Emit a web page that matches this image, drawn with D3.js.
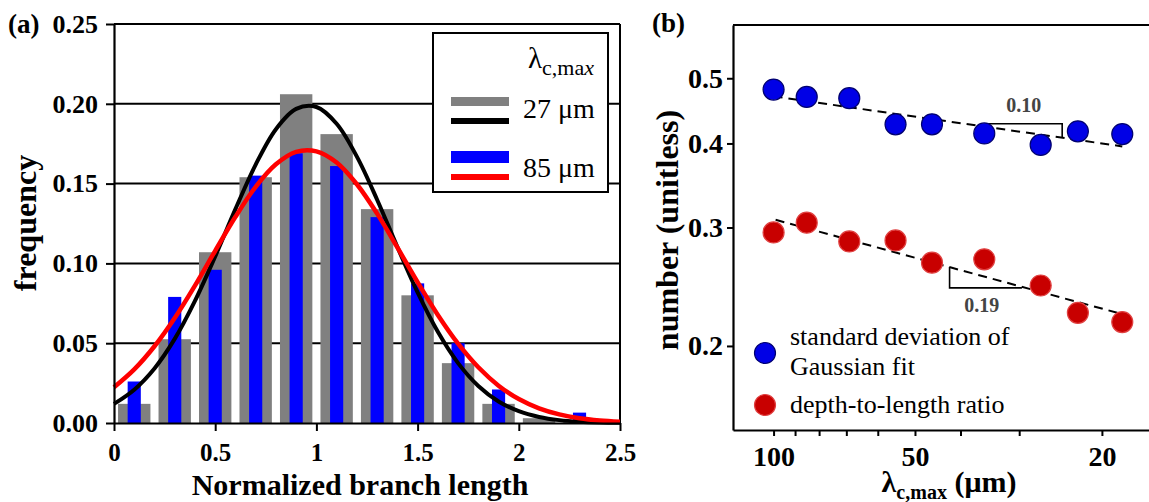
<!DOCTYPE html>
<html>
<head>
<meta charset="utf-8">
<script src="https://cdn.jsdelivr.net/npm/d3@7"></script>
<style>
    body { margin: 0; background: #fff; }
    text { font-family: "Liberation Serif", "Times New Roman", serif; }
</style>
</head>
<body>
<div id="fig"></div>
<script>
"use strict"

// panel (a): histogram of normalized branch length
var bin_centers = [0.1, 0.3, 0.5, 0.7, 0.9, 1.1, 1.3, 1.5, 1.7, 1.9, 2.1, 2.3]
var freq_27 = [0.012, 0.0525, 0.107, 0.154, 0.206, 0.181, 0.134, 0.080, 0.0375, 0.012, 0.003, 0.001]
var freq_85 = [0.026, 0.079, 0.096, 0.155, 0.169, 0.161, 0.129, 0.0875, 0.050, 0.021, 0.000, 0.0065]

// gaussian fits
var fit_x = [0, 0.1, 0.2, 0.3, 0.4, 0.5, 0.6, 0.7, 0.8, 0.9, 1.0, 1.1, 1.2,
             1.3, 1.4, 1.5, 1.6, 1.7, 1.8, 1.9, 2.0, 2.1, 2.2, 2.3, 2.4, 2.5]
var fit_27 = [0.0120, 0.0209, 0.0342, 0.0527, 0.0765, 0.1044, 0.1340, 0.1619, 0.1841, 0.1968,
              0.1980, 0.1875, 0.1669, 0.1399, 0.1103, 0.0818, 0.0571, 0.0375, 0.0232, 0.0135,
              0.0074, 0.0038, 0.0018, 0.0008, 0.0003, 0.0001]
var fit_85 = [0.0224, 0.0336, 0.0481, 0.0658, 0.0861, 0.1079, 0.1292, 0.1480, 0.1621, 0.1699,
              0.1702, 0.1632, 0.1496, 0.1312, 0.1100, 0.0882, 0.0677, 0.0497, 0.0349, 0.0234,
              0.0150, 0.0092, 0.0054, 0.0030, 0.0016, 0.0008]

var y_ticks_a = [0, 0.05, 0.10, 0.15, 0.20, 0.25]
var x_ticks_a = [0, 0.5, 1, 1.5, 2, 2.5]
var legend_a = ["27 μm", "85 μm"]

// panel (b): log-log scaling against lambda_c,max
var lambda_max = [100, 85, 69, 55, 46, 35.6, 27, 22.5, 18.1]
var std_dev = [0.481, 0.469, 0.467, 0.427, 0.427, 0.414, 0.398, 0.417, 0.413]
var depth_ratio = [0.295, 0.305, 0.286, 0.287, 0.266, 0.269, 0.246, 0.224, 0.217]

var std_fit = [[100, 0.470], [18.1, 0.396]]
var ratio_fit = [[99, 0.308], [18.1, 0.223]]
var std_slope = [[35.4, 0.428], [24.3, 0.428], [24.3, 0.409]]
var ratio_slope = [[42.2, 0.262], [42.2, 0.244], [29.6, 0.244]]
var slope_labels = ["0.10", "0.19"]

var x_ticks_b = [100, 90, 80, 70, 60, 50, 40, 30, 20]
var x_labels_b = [100, 50, 20]
var y_ticks_b = [0.2, 0.3, 0.4, 0.5]
var legend_b = ["standard deviation of", "Gaussian fit", "depth-to-length ratio"]


var svg = d3.select("#fig").append("svg")
    .attr("width", 1149)
    .attr("height", 502)

svg.append("rect").attr("width", 1149).attr("height", 502).attr("fill", "#fff")

function style_axis(g, size) {
    g.attr("font-family", null).attr("font-size", null)
    g.select(".domain").attr("stroke", "#000").attr("stroke-width", 2.2)
    g.selectAll(".tick line").attr("stroke", "#000").attr("stroke-width", 2)
    g.selectAll(".tick text")
        .attr("fill", "#000")
        .style("font-size", size + "px")
        .style("font-weight", "bold")
}


/**
panel (a)
*/
var xa = d3.scaleLinear().domain([0, 2.5]).range([114, 620])
var ya = d3.scaleLinear().domain([0, 0.25]).range([423, 24])

var pa = svg.append("g")

// gridlines + frame
pa.selectAll("line.grid")
    .data(y_ticks_a.slice(1))
    .enter()
    .append("line")
    .attr("class", "grid")
    .attr("x1", xa(0))
    .attr("x2", xa(2.5))
    .attr("y1", function(d) { return ya(d) })
    .attr("y2", function(d) { return ya(d) })
    .attr("stroke", "#000")
    .attr("stroke-width", 2)

pa.append("line")
    .attr("x1", xa(2.5)).attr("x2", xa(2.5))
    .attr("y1", ya(0)).attr("y2", ya(0.25))
    .attr("stroke", "#000")
    .attr("stroke-width", 2)

var gray_w = 0.16
var blue_w = 0.065

pa.selectAll("rect.gray")
    .data(bin_centers)
    .enter()
    .append("rect")
    .attr("class", "gray")
    .attr("x", function(d) { return xa(d - gray_w / 2) })
    .attr("width", xa(gray_w) - xa(0))
    .attr("y", function(d, i) { return ya(freq_27[i]) })
    .attr("height", function(d, i) { return ya(0) - ya(freq_27[i]) })
    .attr("fill", "#808080")

pa.selectAll("rect.blue")
    .data(bin_centers)
    .enter()
    .append("rect")
    .attr("class", "blue")
    .attr("x", function(d) { return xa(d - blue_w / 2) })
    .attr("width", xa(blue_w) - xa(0))
    .attr("y", function(d, i) { return ya(freq_85[i]) })
    .attr("height", function(d, i) { return ya(0) - ya(freq_85[i]) })
    .attr("fill", "#0000ff")

var fit_line = d3.line()
    .x(function(d) { return xa(d[0]) })
    .y(function(d) { return ya(d[1]) })
    .curve(d3.curveCatmullRom)

pa.append("path")
    .attr("d", fit_line(fit_x.map(function(x, i) { return [x, fit_27[i]] })))
    .attr("fill", "none")
    .attr("stroke", "#000")
    .attr("stroke-width", 4)

pa.append("path")
    .attr("d", fit_line(fit_x.map(function(x, i) { return [x, fit_85[i]] })))
    .attr("fill", "none")
    .attr("stroke", "#ff0000")
    .attr("stroke-width", 4.5)

var axis_ya = d3.axisLeft(ya)
    .tickValues(y_ticks_a)
    .tickFormat(d3.format(".2f"))
    .tickSize(8)
    .tickSizeOuter(0)
    .tickPadding(8)

pa.append("g")
    .attr("transform", "translate(" + xa(0) + ",0)")
    .call(axis_ya)
    .call(style_axis, 26)

var axis_xa = d3.axisBottom(xa)
    .tickValues(x_ticks_a)
    .tickFormat(function(d) { return String(d) })
    .tickSize(8)
    .tickSizeOuter(0)
    .tickPadding(12)

pa.append("g")
    .attr("transform", "translate(0," + ya(0) + ")")
    .call(axis_xa)
    .call(style_axis, 25)

// legend (a)
var lg = pa.append("g")
lg.append("rect")
    .attr("x", 433).attr("y", 33)
    .attr("width", 175).attr("height", 159)
    .attr("fill", "#fff")
    .attr("stroke", "#000")
    .attr("stroke-width", 2)

var lg_title = lg.append("text")
    .attr("x", 594).attr("y", 68)
    .attr("text-anchor", "end")
    .style("font-size", "29px")
lg_title.append("tspan").text("λ")
lg_title.append("tspan").attr("dy", 7).style("font-size", "22px").text("c,ma")
lg_title.append("tspan").style("font-size", "22px").style("font-style", "italic").text("x")

lg.append("rect").attr("x", 451).attr("y", 97).attr("width", 58).attr("height", 9).attr("fill", "#808080")
lg.append("rect").attr("x", 451).attr("y", 118).attr("width", 58).attr("height", 6).attr("fill", "#000")
lg.append("rect").attr("x", 451).attr("y", 151).attr("width", 58).attr("height", 12).attr("fill", "#0000ff")
lg.append("rect").attr("x", 451).attr("y", 174).attr("width", 58).attr("height", 6).attr("fill", "#ff0000")

lg.selectAll("text.item")
    .data(legend_a)
    .enter()
    .append("text")
    .attr("class", "item")
    .attr("x", 523)
    .attr("y", function(d, i) { return 118 + i * 59 })
    .style("font-size", "28px")
    .text(function(d) { return d })

svg.append("text")
    .attr("x", 8).attr("y", 33)
    .style("font-size", "27px").style("font-weight", "bold")
    .text("(a)")

svg.append("text")
    .attr("transform", "translate(36,223) rotate(-90)")
    .attr("text-anchor", "middle")
    .style("font-size", "32px").style("font-weight", "bold")
    .text("frequency")

svg.append("text")
    .attr("x", 360).attr("y", 495)
    .attr("text-anchor", "middle")
    .style("font-size", "30px").style("font-weight", "bold")
    .text("Normalized branch length")


/**
panel (b)
*/
var xb = d3.scaleLog().domain([122, 15.8]).range([733, 1150])
var yb = d3.scaleLog().domain([0.15, 0.6]).range([430, 25])

var pb = svg.append("g")

pb.append("line")
    .attr("x1", 733).attr("x2", 1150)
    .attr("y1", yb(0.6)).attr("y2", yb(0.6))
    .attr("stroke", "#000")
    .attr("stroke-width", 2)

var axis_yb = d3.axisLeft(yb)
    .tickValues(y_ticks_b)
    .tickFormat(d3.format(".1f"))
    .tickSize(6)
    .tickSizeOuter(0)
    .tickPadding(4)

pb.append("g")
    .attr("transform", "translate(733,0)")
    .call(axis_yb)
    .call(style_axis, 28)

var axis_xb = d3.axisBottom(xb)
    .tickValues(x_ticks_b)
    .tickFormat(function(d) { return x_labels_b.indexOf(d) >= 0 ? String(d) : "" })
    .tickSize(6)
    .tickSizeOuter(0)
    .tickPadding(10)

pb.append("g")
    .attr("transform", "translate(0,430)")
    .call(axis_xb)
    .call(style_axis, 28)

var log_line = d3.line()
    .x(function(d) { return xb(d[0]) })
    .y(function(d) { return yb(d[1]) })

pb.selectAll("path.fit")
    .data([std_fit, ratio_fit])
    .enter()
    .append("path")
    .attr("class", "fit")
    .attr("d", log_line)
    .attr("fill", "none")
    .attr("stroke", "#000")
    .attr("stroke-width", 2)
    .attr("stroke-dasharray", "9,6")

pb.selectAll("path.slope")
    .data([std_slope, ratio_slope])
    .enter()
    .append("path")
    .attr("class", "slope")
    .attr("d", log_line)
    .attr("fill", "none")
    .attr("stroke", "#000")
    .attr("stroke-width", 1.6)

pb.append("text")
    .attr("x", (xb(std_slope[0][0]) + xb(std_slope[1][0])) / 2)
    .attr("y", yb(std_slope[0][1]) - 12)
    .attr("text-anchor", "middle")
    .attr("fill", "#444")
    .style("font-size", "20px").style("font-weight", "bold")
    .text(slope_labels[0])

pb.append("text")
    .attr("x", (xb(ratio_slope[1][0]) + xb(ratio_slope[2][0])) / 2 - 4)
    .attr("y", yb(ratio_slope[1][1]) + 24)
    .attr("text-anchor", "middle")
    .attr("fill", "#444")
    .style("font-size", "20px").style("font-weight", "bold")
    .text(slope_labels[1])

var point_r = 10.5

pb.selectAll("circle.std")
    .data(lambda_max)
    .enter()
    .append("circle")
    .attr("class", "std")
    .attr("cx", function(d) { return xb(d) })
    .attr("cy", function(d, i) { return yb(std_dev[i]) })
    .attr("r", point_r)
    .attr("fill", "#0000e6")
    .attr("stroke", "#000070")
    .attr("stroke-width", 1.2)

pb.selectAll("circle.ratio")
    .data(lambda_max)
    .enter()
    .append("circle")
    .attr("class", "ratio")
    .attr("cx", function(d) { return xb(d) })
    .attr("cy", function(d, i) { return yb(depth_ratio[i]) })
    .attr("r", point_r)
    .attr("fill", "#c80000")
    .attr("stroke", "#e04040")
    .attr("stroke-width", 1.2)

// legend (b)
var lb = pb.append("g")
lb.append("circle").attr("cx", 765).attr("cy", 353).attr("r", point_r)
    .attr("fill", "#0000e6").attr("stroke", "#000070").attr("stroke-width", 1.2)
lb.append("circle").attr("cx", 765).attr("cy", 405).attr("r", point_r)
    .attr("fill", "#c80000").attr("stroke", "#e04040").attr("stroke-width", 1.2)

var lb_y = [345, 375, 413]
lb.selectAll("text")
    .data(legend_b)
    .enter()
    .append("text")
    .attr("x", 790)
    .attr("y", function(d, i) { return lb_y[i] })
    .style("font-size", "26px")
    .text(function(d) { return d })

svg.append("text")
    .attr("x", 652).attr("y", 32)
    .style("font-size", "27px").style("font-weight", "bold")
    .text("(b)")

svg.append("text")
    .attr("transform", "translate(678,230) rotate(-90)")
    .attr("text-anchor", "middle")
    .style("font-size", "32px").style("font-weight", "bold")
    .text("number (unitless)")

var xlab_b = svg.append("text")
    .attr("x", 949).attr("y", 492)
    .attr("text-anchor", "middle")
    .style("font-size", "30px").style("font-weight", "bold")
xlab_b.append("tspan").text("λ")
xlab_b.append("tspan").attr("dy", 7).style("font-size", "20px").text("c,max")
xlab_b.append("tspan").attr("dy", -7).text(" (μm)")

</script>
</body>
</html>
